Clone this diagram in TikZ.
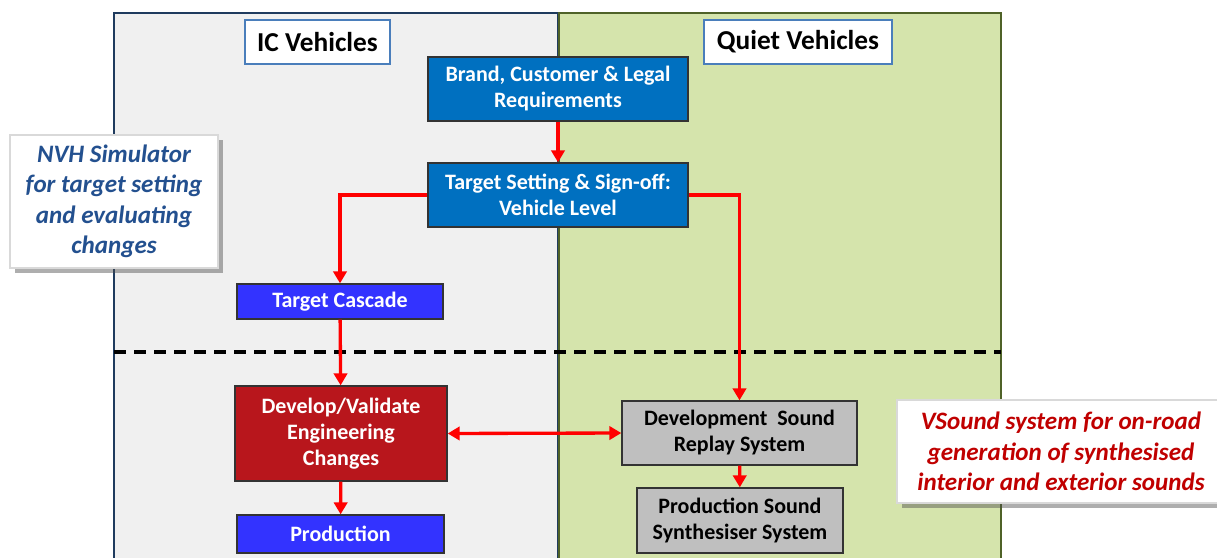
\documentclass[tikz,border=0pt]{standalone}
\usepackage{fontspec}
\setmainfont{Carlito}
\usetikzlibrary{arrows.meta,shadows}
\definecolor{panelL}{HTML}{F0F0F0}
\definecolor{panelLb}{HTML}{1F3B5E}
\definecolor{panelR}{HTML}{D5E4AC}
\definecolor{panelRb}{HTML}{4F6228}
\definecolor{midblue}{HTML}{0070C0}
\definecolor{brblue}{HTML}{3333FF}
\definecolor{dred}{HTML}{B8161C}
\definecolor{gbox}{HTML}{BFBFBF}
\definecolor{nvhtext}{HTML}{23508F}
\definecolor{vstext}{HTML}{C00000}
\definecolor{hdrb}{HTML}{4A7EBB}
\definecolor{arr}{HTML}{FF0000}
\tikzset{
  box/.style={draw=black!80, line width=1pt, inner sep=0pt, align=center, font=\bfseries\fontsize{16.5}{19.5}\selectfont},
  bluebox/.style={box, fill=midblue, text=white},
  brbox/.style={box, fill=brblue, text=white},
  redbox/.style={box, fill=dred, text=white},
  graybox/.style={box, fill=gbox, text=black},
  hdr/.style={draw=hdrb, fill=white, line width=0.9pt, inner sep=0pt, font=\bfseries\fontsize{20.5}{23}\selectfont},
  callout/.style={fill=white, draw=black!15, line width=0.8pt, inner sep=0pt, align=center,
     drop shadow={shadow xshift=4pt, shadow yshift=-4pt, opacity=0.45, fill=black!70},
     font=\bfseries\itshape\fontsize{18.8}{22.8}\selectfont},
  conn/.style={draw=arr, line width=2.5pt, -{Triangle[length=9pt,width=10pt]}},
  conn2/.style={draw=arr, line width=2.5pt, {Triangle[length=9pt,width=10pt]}-{Triangle[length=9pt,width=10pt]}},
}
\begin{document}
\begin{tikzpicture}[x=0.75pt,y=-0.75pt]
\useasboundingbox (0,0) rectangle (1217,557);
\clip (0,0) rectangle (1217,557);
% panels
\draw[fill=panelL, draw=panelLb, line width=1.5pt] (114,13) rectangle (558,580);
\draw[fill=panelR, draw=panelRb, line width=1.5pt] (559,13) rectangle (1001,580);
% dashed divider
\coordinate (dl) at (114,352);
\coordinate (dr) at (1001,352);
\draw[line width=2.4pt, dash pattern=on 9pt off 6pt] (dl) -- (dr);
% headers
\node[hdr, minimum width=108.75pt, minimum height=33pt] (ic) at (317.5,42) {IC Vehicles};
\node[hdr, minimum width=141pt, minimum height=33pt] (qv) at (798,42) {Quiet Vehicles};
% boxes
\node[bluebox, minimum width=195pt, minimum height=48pt] (br) at (558,89) {Brand, Customer \& Legal\\Requirements};
\node[bluebox, minimum width=195pt, minimum height=48pt] (ts) at (558,195) {Target Setting \& Sign-off:\\Vehicle Level};
\node[brbox, minimum width=154.5pt, minimum height=26.25pt] (tc) at (340,301.5) {Target Cascade};
\node[redbox, minimum width=159pt, minimum height=71.25pt] (dv) at (341,433.5) {Develop/Validate\\Engineering\\Changes};
\node[brbox, minimum width=155.25pt, minimum height=28.5pt] (pr) at (340.5,534) {Production};
\node[graybox, minimum width=176.25pt, minimum height=48pt] (ds) at (739.5,433) {Development\ \ Sound\\Replay System};
\node[graybox, minimum width=154.5pt, minimum height=48.75pt] (ps) at (740,520.5) {Production Sound\\Synthesiser System};
% callouts
\node[callout, text=nvhtext, minimum width=156pt, minimum height=99.75pt] (nvh) at (114,201.5) {NVH Simulator\\for target setting\\and evaluating\\changes};
\node[callout, text=vstext, minimum width=246pt, minimum height=77.25pt] (vs) at (1061,451.5) {VSound system for on-road\\generation of synthesised\\interior and exterior sounds};
% connectors
\draw[conn] (br) -- (ts);
\draw[conn] (ts.west) -| (tc.north);
\draw[conn] (ts.east) -| (ds.north);
\draw[conn] (tc) -- (dv);
\draw[conn] (dv) -- (pr);
\draw[conn2] (dv.east) -- (ds.west);
\draw[conn] (ds) -- (ps);
\end{tikzpicture}
\end{document}
